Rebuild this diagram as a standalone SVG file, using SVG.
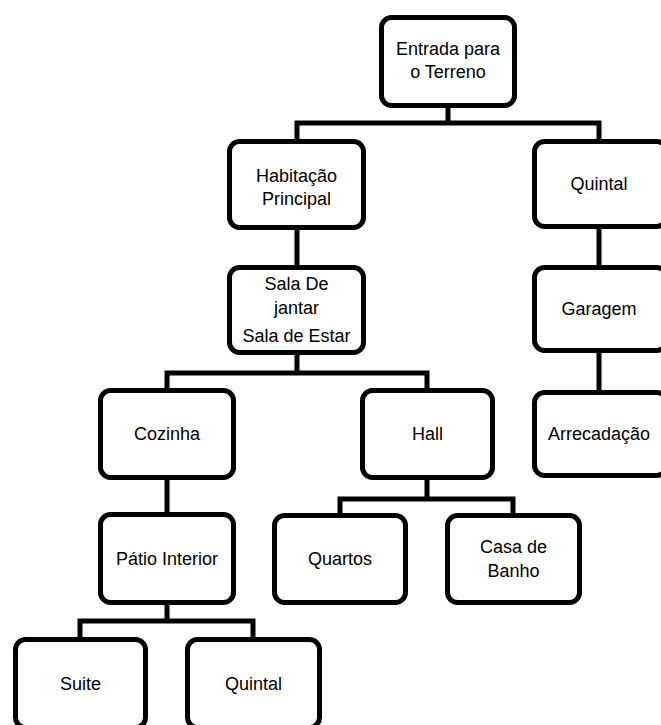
<svg xmlns="http://www.w3.org/2000/svg" width="661" height="725" viewBox="0 0 661 725">
<style>
.box{fill:#fff;stroke:#000;stroke-width:5}
.t{font-family:"Liberation Sans",Arial,sans-serif;font-size:18px;fill:#000;text-anchor:middle}
.c{fill:none;stroke:#000;stroke-width:5;stroke-linejoin:miter}
</style>
<rect width="661" height="725" fill="#fff"/>
<g id="connectors">
<path class="c" d="M448,106 V123"/>
<path class="c" d="M297,141 V123 H599 V141"/>
<path class="c" d="M297,228 V267"/>
<path class="c" d="M599,226 V267"/>
<path class="c" d="M599,351 V392"/>
<path class="c" d="M297,353 V373"/>
<path class="c" d="M167,390 V373 H427 V390"/>
<path class="c" d="M167,478 V514"/>
<path class="c" d="M427,478 V499"/>
<path class="c" d="M340,515 V499 H513 V515"/>
<path class="c" d="M167,603 V621"/>
<path class="c" d="M80,639 V621 H253 V639"/>
</g>
<g id="n-entrada"><rect class="box" x="381.5" y="17.5" width="133" height="88" rx="10"/><text class="t" x="448" y="55">Entrada para</text><text class="t" x="448" y="78">o Terreno</text></g>
<g id="n-habitacao"><rect class="box" x="229.5" y="141.5" width="134" height="86" rx="10"/><text class="t" x="296.5" y="182">Habitação</text><text class="t" x="296.5" y="205">Principal</text></g>
<g id="n-quintal-r"><rect class="box" x="534.5" y="141.5" width="132" height="85" rx="10"/><text class="t" x="599" y="190">Quintal</text></g>
<g id="n-sala"><rect class="box" x="229.5" y="267.5" width="134" height="85" rx="10"/><text class="t" x="296.5" y="290">Sala De</text><text class="t" x="296.5" y="314">jantar</text><text class="t" x="296.5" y="342">Sala de Estar</text></g>
<g id="n-garagem"><rect class="box" x="534.5" y="267.5" width="132" height="83" rx="10"/><text class="t" x="599" y="315">Garagem</text></g>
<g id="n-arrecadacao"><rect class="box" x="534.5" y="392.5" width="132" height="83" rx="10"/><text class="t" x="599" y="440">Arrecadação</text></g>
<g id="n-cozinha"><rect class="box" x="100.5" y="390.5" width="133" height="87" rx="10"/><text class="t" x="167" y="440">Cozinha</text></g>
<g id="n-hall"><rect class="box" x="362.5" y="390.5" width="130" height="87" rx="10"/><text class="t" x="427.5" y="440">Hall</text></g>
<g id="n-patio"><rect class="box" x="100.5" y="514.5" width="133" height="88" rx="10"/><text class="t" x="167" y="565">Pátio Interior</text></g>
<g id="n-quartos"><rect class="box" x="274.5" y="515.5" width="131" height="87" rx="10"/><text class="t" x="340" y="565">Quartos</text></g>
<g id="n-casa"><rect class="box" x="447.5" y="515.5" width="132" height="87" rx="10"/><text class="t" x="513.5" y="553">Casa de</text><text class="t" x="513.5" y="577">Banho</text></g>
<g id="n-suite"><rect class="box" x="15.5" y="639.5" width="130" height="88" rx="10"/><text class="t" x="80.5" y="690">Suite</text></g>
<g id="n-quintal-b"><rect class="box" x="187.5" y="639.5" width="132" height="88" rx="10"/><text class="t" x="253.5" y="690">Quintal</text></g>
</svg>
